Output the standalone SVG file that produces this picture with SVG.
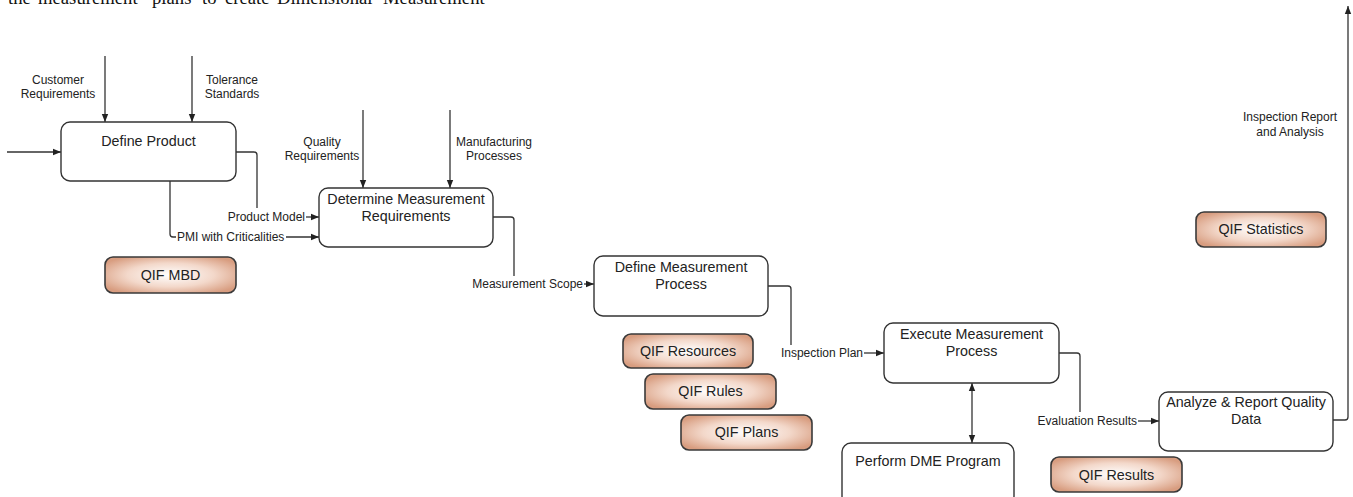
<svg xmlns="http://www.w3.org/2000/svg" width="1353" height="497" viewBox="0 0 1353 497">
<defs>
<radialGradient id="qif" cx="50%" cy="50%" r="60%">
<stop offset="0" stop-color="#ffffff"/>
<stop offset="0.55" stop-color="#f3d8ca"/>
<stop offset="1" stop-color="#d89d80"/>
</radialGradient>
<marker id="ah" viewBox="0 0 8 8" refX="8" refY="4" markerWidth="8" markerHeight="8" markerUnits="userSpaceOnUse" orient="auto-start-reverse">
<path d="M0,0.8 L8,4 L0,7.2 Z" fill="#222"/>
</marker>
</defs>
<style>
.proc{fill:#fff;stroke:#333;stroke-width:1.4}
.qif{fill:url(#qif);stroke:#3a3a3a;stroke-width:1.6}
.pt{font-family:"Liberation Sans",Arial,sans-serif;font-size:14.3px;fill:#222;text-anchor:middle}
.lbl{font-family:"Liberation Sans",Arial,sans-serif;font-size:12px;fill:#222}
.c{text-anchor:middle}
.e{text-anchor:end}
.con{fill:none;stroke:#333;stroke-width:1.3}
.top{font-family:"Liberation Serif","Times New Roman",serif;font-size:18.7px;fill:#111}
</style>
<text class="top" y="4"><tspan x="8">the</tspan><tspan x="38">measurement</tspan><tspan x="152">plans</tspan><tspan x="202">to</tspan><tspan x="225">create</tspan><tspan x="277">Dimensional</tspan><tspan x="383">Measurement</tspan></text>

<g id="connectors">
<path class="con" d="M7,152 H61" marker-end="url(#ah)"/>
<path class="con" d="M105,56 V122" marker-end="url(#ah)"/>
<path class="con" d="M192,56 V122" marker-end="url(#ah)"/>
<path class="con" d="M236,152 H254 Q257,152 257,155 V208"/>
<path class="con" d="M306,217 H319" marker-end="url(#ah)"/>
<path class="con" d="M170,181 V234 Q170,237 173,237 H176"/>
<path class="con" d="M286,237 H319" marker-end="url(#ah)"/>
<path class="con" d="M363,110 V188" marker-end="url(#ah)"/>
<path class="con" d="M450,110 V188" marker-end="url(#ah)"/>
<path class="con" d="M493,217 H511 Q514,217 514,220 V276"/>
<path class="con" d="M584,284 H594" marker-end="url(#ah)"/>
<path class="con" d="M768,286 H788 Q791,286 791,289 V345"/>
<path class="con" d="M864,353 H884" marker-end="url(#ah)"/>
<path class="con" d="M972,383 V443" marker-start="url(#ah)" marker-end="url(#ah)"/>
<path class="con" d="M1059,353 H1077 Q1080,353 1080,356 V412"/>
<path class="con" d="M1138,421 H1159" marker-end="url(#ah)"/>
<path class="con" d="M1333,420 H1345 Q1348,420 1348,417 V6" marker-end="url(#ah)"/>
<text class="lbl c" x="58" y="84">Customer</text>
<text class="lbl c" x="58" y="98">Requirements</text>
<text class="lbl c" x="232" y="84">Tolerance</text>
<text class="lbl c" x="232" y="98">Standards</text>
<text class="lbl e" x="305" y="221">Product Model</text>
<text class="lbl" x="177" y="241">PMI with Criticalities</text>
<text class="lbl c" x="322" y="146">Quality</text>
<text class="lbl c" x="322" y="160">Requirements</text>
<text class="lbl c" x="494" y="146">Manufacturing</text>
<text class="lbl c" x="494" y="160">Processes</text>
<text class="lbl e" x="583" y="288">Measurement Scope</text>
<text class="lbl e" x="863" y="357">Inspection Plan</text>
<text class="lbl e" x="1137" y="425">Evaluation Results</text>
<text class="lbl c" x="1290" y="121">Inspection Report</text>
<text class="lbl c" x="1290" y="136">and Analysis</text>
</g>

<g id="define-product">
<rect class="proc" x="61" y="122" width="175" height="59" rx="9"/>
<text class="pt" x="148.5" y="146">Define Product</text>
</g>
<g id="determine-measurement-requirements">
<rect class="proc" x="319" y="188" width="174" height="59" rx="9"/>
<text class="pt" x="406" y="204">Determine Measurement</text>
<text class="pt" x="406" y="221">Requirements</text>
</g>
<g id="define-measurement-process">
<rect class="proc" x="594" y="256" width="174" height="60" rx="9"/>
<text class="pt" x="681" y="272">Define Measurement</text>
<text class="pt" x="681" y="289">Process</text>
</g>
<g id="execute-measurement-process">
<rect class="proc" x="884" y="323" width="175" height="60" rx="9"/>
<text class="pt" x="971.5" y="339">Execute Measurement</text>
<text class="pt" x="971.5" y="356">Process</text>
</g>
<g id="perform-dme-program">
<rect class="proc" x="842" y="443" width="172" height="62" rx="9"/>
<text class="pt" x="928" y="466">Perform DME Program</text>
</g>
<g id="analyze-report">
<rect class="proc" x="1159" y="392" width="174" height="59" rx="9"/>
<text class="pt" x="1246" y="407">Analyze &amp; Report Quality</text>
<text class="pt" x="1246" y="424">Data</text>
</g>
<g id="qif-mbd">
<rect class="qif" x="105" y="257" width="131" height="36" rx="8"/>
<text class="pt" x="170.5" y="280">QIF MBD</text>
</g>
<g id="qif-resources">
<rect class="qif" x="623" y="334" width="130" height="34" rx="8"/>
<text class="pt" x="688" y="356">QIF Resources</text>
</g>
<g id="qif-rules">
<rect class="qif" x="645" y="374" width="131" height="35" rx="8"/>
<text class="pt" x="710.5" y="396">QIF Rules</text>
</g>
<g id="qif-plans">
<rect class="qif" x="681" y="415" width="131" height="35" rx="8"/>
<text class="pt" x="746.5" y="437">QIF Plans</text>
</g>
<g id="qif-results">
<rect class="qif" x="1051" y="457" width="131" height="35" rx="8"/>
<text class="pt" x="1116.5" y="480">QIF Results</text>
</g>
<g id="qif-statistics">
<rect class="qif" x="1196" y="212" width="130" height="35" rx="8"/>
<text class="pt" x="1261" y="234">QIF Statistics</text>
</g>
</svg>
